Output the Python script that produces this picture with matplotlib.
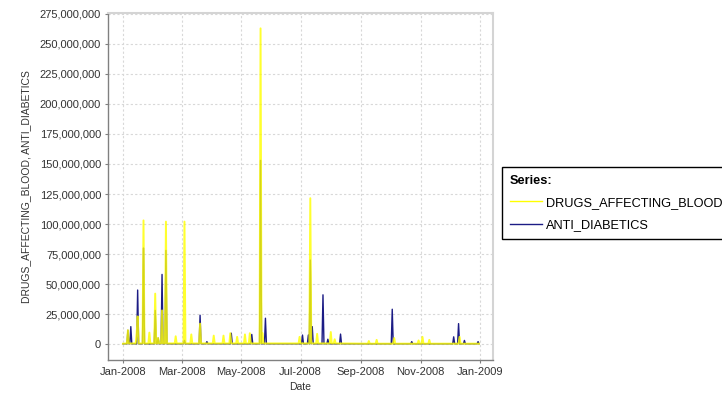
import matplotlib
matplotlib.use("Agg")
import matplotlib.pyplot as plt
import matplotlib.dates as mdates
import matplotlib.ticker as mticker
import pandas as pd

START = pd.Timestamp("2008-01-01")

# day offsets from 1 Jan 2008, values in millions
blood_days = [0, 4, 5, 6, 13, 14, 15, 16, 20, 21, 22, 26, 27, 28, 32, 33, 34, 35, 36, 37,
              39, 40, 41, 43, 44, 45, 53, 54, 55, 62, 63, 64, 69, 70, 71, 78, 79, 80,
              92, 93, 94, 102, 103, 104, 109, 110, 111, 116, 117, 118, 124, 125, 126,
              129, 130, 131, 140, 141, 142, 143, 144, 180, 181, 182, 191, 192, 193,
              198, 199, 200, 212, 213, 214, 216, 217, 218, 251, 252, 253, 259, 260, 261,
              277, 278, 279, 302, 303, 304, 306, 307, 308, 313, 314, 315, 344, 345, 346, 365]
blood_vals = [0.3, 0.5, 11.5, 0.5, 0.5, 9, 23, 0.5, 0.5, 103, 0.5, 0.5, 9.5, 0.5, 0.5, 42, 0.5, 0.5, 5, 0.5,
              0.5, 28, 0.5, 0.5, 102, 0.5, 0.5, 6.5, 0.5, 0.5, 102, 0.5, 0.5, 8, 0.5, 0.5, 17, 0.5,
              0.5, 7, 0.5, 0.5, 7, 0.5, 0.5, 9, 0.5, 0.5, 6, 0.5, 0.5, 8, 0.5,
              0.5, 9, 0.5, 0.5, 263, 0.5, 9, 0.5, 0.5, 6, 0.5, 0.5, 121.5, 0.5,
              0.5, 8.5, 0.5, 0.5, 10, 0.5, 0.5, 4, 0.5, 0.3, 2.5, 0.3, 0.3, 3.5, 0.3,
              0.3, 5, 0.3, 0.3, 3, 0.3, 0.3, 6, 0.3, 0.3, 3.5, 0.3, 0.3, 6, 0.3, 0.3]

diab_days = [0, 4, 5, 6, 7, 8, 9, 14, 15, 16, 20, 21, 22, 32, 33, 34, 35, 36, 37,
             39, 40, 41, 43, 44, 45, 62, 63, 64, 78, 79, 80, 85, 86, 87, 110, 111, 112,
             131, 132, 133, 140, 141, 142, 145, 146, 147, 183, 184, 185, 189, 190, 191,
             192, 193, 194, 195, 204, 205, 206, 209, 210, 211, 222, 223, 224, 275, 276, 277,
             295, 296, 297, 338, 339, 340, 343, 344, 345, 349, 350, 351, 363, 364, 365]
diab_vals = [0.2, 0.2, 11.5, 0.2, 0.2, 14.5, 0.2, 0.2, 45, 0.2, 0.2, 80, 0.2, 0.2, 28, 0.2, 0.2, 5, 0.2,
             0.2, 58, 0.2, 0.2, 78, 0.2, 0.2, 3, 0.2, 0.2, 24, 0.2, 0.2, 2, 0.2, 0.2, 9, 0.2,
             0.2, 8, 0.2, 0.2, 153, 0.2, 0.2, 21.5, 0.2, 0.2, 7.5, 0.2, 0.2, 7.5, 0.2,
             70, 0.2, 14.5, 0.2, 0.2, 41, 0.2, 0.2, 4, 0.2, 0.2, 8.3, 0.2, 0.2, 29, 0.2,
             0.2, 2, 0.2, 0.2, 6, 0.2, 0.2, 17, 0.2, 0.2, 3, 0.2, 0.2, 2, 0.2]

plt.rcParams['font.family'] = ['Liberation Sans', 'DejaVu Sans']

fig = plt.figure(figsize=(7.22, 4.0), dpi=100)
ax = fig.add_axes([108 / 722, 40 / 400, 385 / 722, 347 / 400])

blood_x = START + pd.to_timedelta(blood_days, unit="D")
diab_x = START + pd.to_timedelta(diab_days, unit="D")
blood_y = [v * 1e6 for v in blood_vals]
diab_y = [v * 1e6 for v in diab_vals]

ax.plot(diab_x, diab_y, color='#1c1c85', linewidth=1.0, zorder=3)
ax.plot(blood_x, blood_y, color='#ffff00', linewidth=1.4, alpha=0.82, zorder=4)

ax.set_xlim(START - pd.Timedelta(days=15.4), START + pd.Timedelta(days=379.3))
ax.set_ylim(-13.3e6, 275.8e6)
ax.yaxis.set_major_locator(mticker.MultipleLocator(25e6))
ax.yaxis.set_major_formatter(mticker.FuncFormatter(lambda v, p: f"{v:,.0f}"))
ax.xaxis.set_major_locator(mdates.MonthLocator(bymonth=[1, 3, 5, 7, 9, 11]))
ax.xaxis.set_major_formatter(mdates.DateFormatter("%b-%Y"))

ax.grid(True, color='#d8d8d8', linestyle=(0, (2, 2)), linewidth=0.8)
ax.set_axisbelow(True)
ax.tick_params(labelsize=8, length=2, width=0.8, color='#808080', pad=3, labelcolor='#333333')

for side in ['left', 'bottom']:
    ax.spines[side].set_color('#808080')
    ax.spines[side].set_linewidth(1.0)
for side in ['top', 'right']:
    ax.spines[side].set_color('#d4d4d4')
    ax.spines[side].set_linewidth(1.5)

ax.set_xlabel("Date", fontsize=7.5, color='#333333', labelpad=4)
ax.set_ylabel("DRUGS_AFFECTING_BLOOD, ANTI_DIABETICS", fontsize=7.5, color='#333333', labelpad=6)

handles = [plt.Line2D([], [], color='#ffff00', linewidth=1.0),
           plt.Line2D([], [], color='#1c1c85', linewidth=1.0)]
leg = fig.legend(handles, ['DRUGS_AFFECTING_BLOOD', 'ANTI_DIABETICS'],
                 loc='upper left', bbox_to_anchor=(502 / 722, 1 - 167 / 400),
                 title='Series:', alignment='left', fontsize=9.2,
                 title_fontproperties={'weight': 'bold', 'size': 9.2},
                 frameon=True, fancybox=False, edgecolor='black', framealpha=1,
                 borderaxespad=0, handlelength=2.5, handletextpad=0.35,
                 borderpad=0.6, labelspacing=0.8)
leg.get_frame().set_linewidth(1.0)

fig.savefig("out.png", dpi=100)
